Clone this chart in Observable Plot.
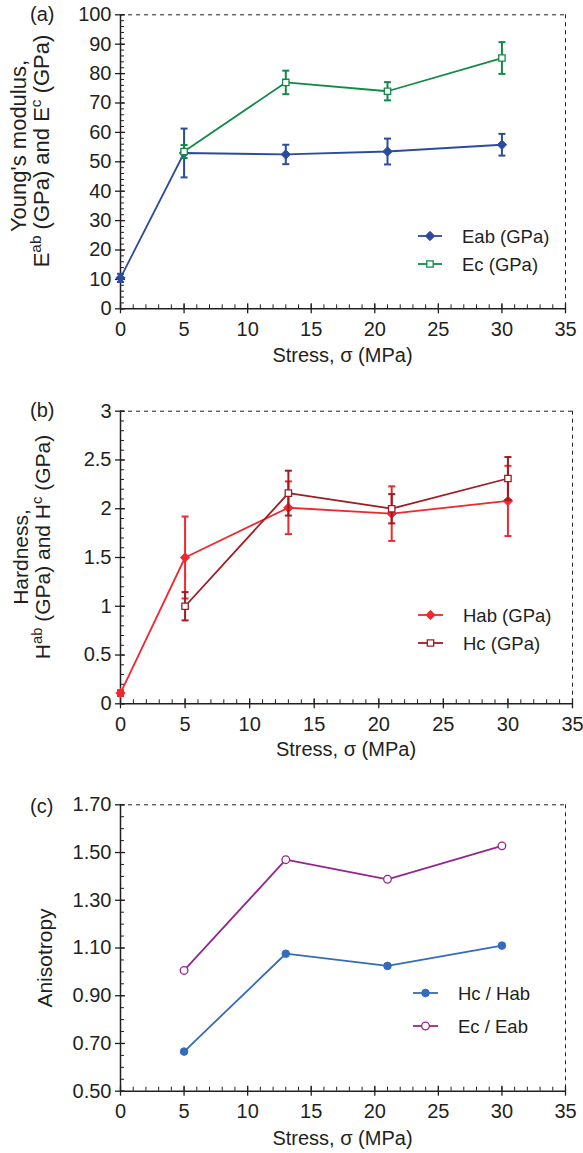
<!DOCTYPE html>
<html><head><meta charset="utf-8">
<script src="https://cdn.jsdelivr.net/npm/d3@7"></script>
<script src="https://cdn.jsdelivr.net/npm/@observablehq/plot@0.6"></script>
<style>
body{margin:0;background:#fff;font-family:"Liberation Sans",Arial,Helvetica,sans-serif;}
#wrap{position:relative;width:583px;height:1153px;overflow:hidden;}
#wrap svg{position:absolute;left:0;}
</style></head><body><div id="wrap"></div>
<script>
// ---------- data ----------
const stress = [0, 5, 13, 21, 30];
const eab = [10.5, 53, 52.5, 53.5, 55.8];
const eabErr = [1.4, 8.3, 3.3, 4.4, 3.7];
const cStress = [5, 13, 21, 30];
const ec = [53.5, 77, 74, 85.3];
const ecErr = [2.2, 4.0, 3.1, 5.4];
const hab = [0.11, 1.5, 2.01, 1.95, 2.08];
const habErr = [0.03, 0.42, 0.27, 0.28, 0.36];
const hc = [1.0, 2.16, 2.0, 2.31];
const hcErr = [0.145, 0.23, 0.15, 0.22];
const ratioStress = [5, 13, 21, 30];
const hcHab = [0.666, 1.076, 1.025, 1.11];
const ecEab = [1.006, 1.47, 1.388, 1.528];
const xTicks = [0, 5, 10, 15, 20, 25, 30, 35];
const yTicksA = [0, 10, 20, 30, 40, 50, 60, 70, 80, 90, 100];
const yTicksB = [0, 0.5, 1, 1.5, 2, 2.5, 3];
const yTicksC = [0.5, 0.7, 0.9, 1.1, 1.3, 1.5, 1.7];

const FONT = '"Liberation Sans", Arial, Helvetica, sans-serif';
const INK = "#231f20";
const capSym = {draw(ctx, size) { const r = Math.sqrt(size / Math.PI); ctx.moveTo(-r, 0); ctx.lineTo(r, 0); }};

function makePanel(cfg) {
  const W = 583;
  const plotW = W - cfg.ml - cfg.mr;
  const plotH = cfg.height - cfg.mt - cfg.mb;
  const [y0, y1] = cfg.ydomain;
  const marks = [];
  marks.push(Plot.ruleY([y1], {stroke: INK, strokeWidth: 1, strokeDasharray: "4,4"}));
  marks.push(Plot.ruleX([35], {stroke: INK, strokeWidth: 1, strokeDasharray: "4,4"}));
  marks.push(Plot.ruleX(d3.range(0, 35.5, 1), {insetTop: plotH - 4, stroke: INK, strokeWidth: 1}));
  marks.push(Plot.ruleX(xTicks, {insetTop: plotH - 5, insetBottom: -5, stroke: INK, strokeWidth: 1.3}));
  marks.push(Plot.ruleY(cfg.yMinor, {insetRight: plotW - 4, stroke: INK, strokeWidth: 1}));
  marks.push(Plot.ruleY(cfg.yMajor, {insetRight: plotW - 5, insetLeft: -5, stroke: INK, strokeWidth: 1.3}));
  marks.push(Plot.ruleX([0], {stroke: INK, strokeWidth: 1.5}));
  marks.push(Plot.ruleY([y0], {stroke: INK, strokeWidth: 1.5}));
  marks.push(Plot.axisX(xTicks, {tickSize: 0, tickPadding: 13, fontSize: 20, fill: INK}));
  marks.push(Plot.axisY(cfg.yMajor, {tickSize: 0, tickPadding: 9, fontSize: 20, fill: INK, tickFormat: cfg.yFmt, label: null}));
  for (const s of cfg.series) {
    const data = s.x.map((x, i) => ({x, y: s.y[i], lo: s.err ? s.y[i] - s.err[i] : null, hi: s.err ? s.y[i] + s.err[i] : null}));
    marks.push(Plot.line(data, {x: "x", y: "y", stroke: s.color, strokeWidth: 1.8}));
    if (s.err) {
      marks.push(Plot.ruleX(data, {x: "x", y1: "lo", y2: "hi", stroke: s.color, strokeWidth: 2}));
      marks.push(Plot.dot(data, {x: "x", y: "lo", symbol: capSym, r: 3.5, stroke: s.color, strokeWidth: 2, fill: "none"}));
      marks.push(Plot.dot(data, {x: "x", y: "hi", symbol: capSym, r: 3.5, stroke: s.color, strokeWidth: 2, fill: "none"}));
    }
    marks.push(Plot.dot(data, {x: "x", y: "y", symbol: s.symbol, r: s.r, fill: s.fill ? s.color : "white", stroke: s.color, strokeWidth: s.fill ? 1 : 1.3}));
  }
  const svgEl = Plot.plot({
    width: W, height: cfg.height,
    marginTop: cfg.mt, marginBottom: cfg.mb, marginLeft: cfg.ml, marginRight: cfg.mr,
    x: {domain: [0, 35], label: null},
    y: {domain: cfg.ydomain, label: null},
    style: {fontFamily: FONT, fontSize: "20px", color: INK, background: "transparent", overflow: "visible"},
    marks
  });
  svgEl.style.top = cfg.top + "px";
  const svg = d3.select(svgEl);
  svg.append("text").attr("x", cfg.ml + plotW / 2).attr("y", cfg.xlabelY)
    .attr("text-anchor", "middle").attr("font-family", FONT).attr("font-size", 20).attr("fill", INK)
    .text("Stress, \u03c3 (MPa)");
  svg.append("text").attr("x", 30).attr("y", cfg.tagY).attr("text-anchor", "start")
    .attr("font-family", FONT).attr("font-size", 20).attr("fill", INK).text(cfg.tag);
  cfg.ylabel.forEach((line) => {
    const t = svg.append("text").attr("transform", `translate(${line.x},${line.cy}) rotate(-90)`)
      .attr("text-anchor", "middle").attr("font-family", FONT).attr("font-size", line.size).attr("fill", INK);
    line.parts.forEach(p => {
      const ts = t.append("tspan").text(p.t);
      if (p.sup) ts.attr("baseline-shift", "super").attr("font-size", line.size * 0.7);
    });
  });
  const lg = cfg.legend;
  cfg.series.forEach((s, i) => {
    const y = lg.ys[i];
    svg.append("line").attr("x1", lg.x1).attr("x2", lg.x2).attr("y1", y).attr("y2", y).attr("stroke", s.color).attr("stroke-width", 1.8);
    svg.append("path").attr("transform", `translate(${(lg.x1 + lg.x2) / 2},${y})`)
      .attr("d", d3.symbol(s.d3sym, s.r * s.r * Math.PI)())
      .attr("fill", s.fill ? s.color : "white").attr("stroke", s.color).attr("stroke-width", s.fill ? 1 : 1.3);
    svg.append("text").attr("x", lg.tx).attr("y", y + 6.5).attr("text-anchor", "start")
      .attr("font-family", FONT).attr("font-size", 18.5).attr("fill", INK).text(s.label);
  });
  document.getElementById("wrap").appendChild(svgEl);
}

// Panel (a)
makePanel({
  top: 0, height: 380, mt: 14.3, mb: 71.7, ml: 120, mr: 18,
  ydomain: [0, 100], yMajor: yTicksA, yMinor: d3.range(0, 100.5, 2),
  yFmt: d => d, xlabelY: 362, tag: "(a)", tagY: 21,
  ylabel: [
    {x: 26, cy: 146, size: 22, parts: [{t: "Young's modulus,"}]},
    {x: 49, cy: 151, size: 22, parts: [{t: "E"}, {t: "ab", sup: true}, {t: " (GPa) and E"}, {t: "c", sup: true}, {t: " (GPa)"}]}
  ],
  series: [
    {x: stress, y: eab, err: eabErr, color: "#2b4c9e", symbol: "diamond2", d3sym: d3.symbolDiamond2, r: 4.2, fill: true, label: "Eab (GPa)"},
    {x: cStress, y: ec, err: ecErr, color: "#118a48", symbol: "square", d3sym: d3.symbolSquare, r: 3.6, fill: false, label: "Ec (GPa)"}
  ],
  legend: {x1: 418, x2: 442, ys: [236, 264], tx: 462}
});

// Panel (b)
makePanel({
  top: 380, height: 390, mt: 30.7, mb: 66.7, ml: 120, mr: 11,
  ydomain: [0, 3], yMajor: yTicksB, yMinor: d3.range(0, 3.01, 0.1).map(v => +v.toFixed(2)),
  yFmt: d => d, xlabelY: 376, tag: "(b)", tagY: 37,
  ylabel: [
    {x: 28, cy: 177, size: 21, parts: [{t: "Hardness,"}]},
    {x: 50, cy: 167, size: 21, parts: [{t: "H"}, {t: "ab", sup: true}, {t: " (GPa) and H"}, {t: "c", sup: true}, {t: " (GPa)"}]}
  ],
  series: [
    {x: stress, y: hab, err: habErr, color: "#ee2a2f", symbol: "diamond2", d3sym: d3.symbolDiamond2, r: 4.2, fill: true, label: "Hab (GPa)"},
    {x: cStress, y: hc, err: hcErr, color: "#9e1c22", symbol: "square", d3sym: d3.symbolSquare, r: 3.6, fill: false, label: "Hc (GPa)"}
  ],
  legend: {x1: 418, x2: 443, ys: [235, 263], tx: 463}
});

// Panel (c)
makePanel({
  top: 770, height: 383, mt: 34.3, mb: 62.3, ml: 120, mr: 18,
  ydomain: [0.5, 1.7], yMajor: yTicksC, yMinor: d3.range(0.5, 1.701, 0.05).map(v => +v.toFixed(2)),
  yFmt: d3.format(".2f"), xlabelY: 375, tag: "(c)", tagY: 43,
  ylabel: [
    {x: 52, cy: 188, size: 21, parts: [{t: "Anisotropy"}]}
  ],
  series: [
    {x: ratioStress, y: hcHab, err: null, color: "#356bbd", symbol: "circle", d3sym: d3.symbolCircle, r: 3.8, fill: true, label: "Hc / Hab"},
    {x: ratioStress, y: ecEab, err: null, color: "#94278f", symbol: "circle", d3sym: d3.symbolCircle, r: 3.8, fill: false, label: "Ec / Eab"}
  ],
  legend: {x1: 413, x2: 438, ys: [223, 256], tx: 458}
});
</script></body></html>
